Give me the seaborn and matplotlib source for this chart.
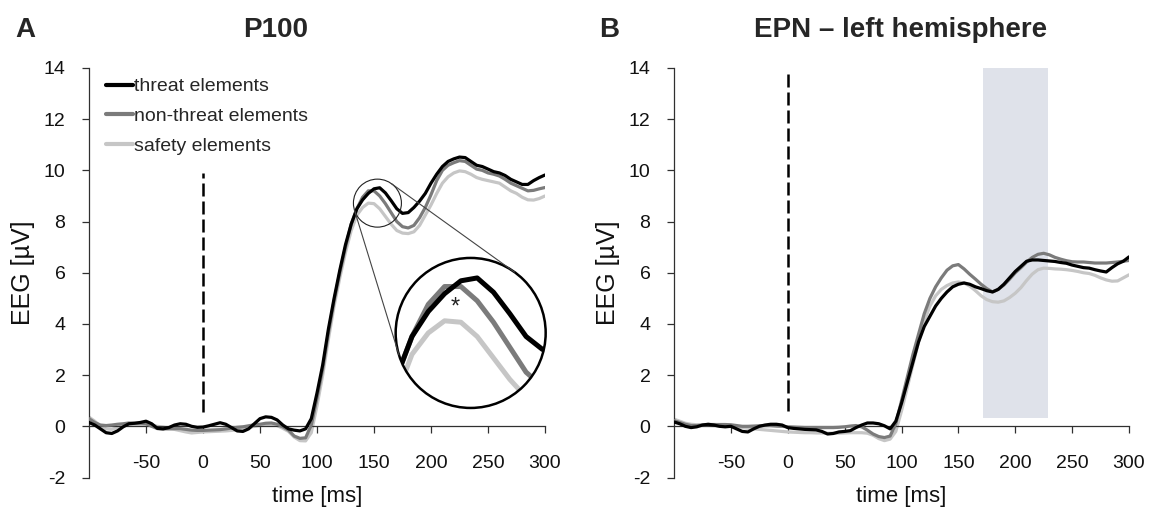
import numpy as np
import pandas as pd
import matplotlib
matplotlib.use("Agg")
import matplotlib.pyplot as plt
import seaborn as sns
from matplotlib.patches import Circle
from matplotlib.transforms import IdentityTransform
from matplotlib.lines import Line2D

# ---------------- data ----------------
time_ms = np.arange(-100, 305, 5)
conditions = ["threat elements", "non-threat elements", "safety elements"]

p100_threat = [0.15, 0.05, -0.10, -0.25, -0.28, -0.18, -0.02, 0.10, 0.12, 0.15,
               0.20, 0.10, -0.08, -0.10, -0.05, 0.05, 0.10, 0.08, 0.00, -0.04,
               -0.03, 0.02, 0.08, 0.14, 0.08, -0.05, -0.18, -0.20, -0.10, 0.10,
               0.30, 0.37, 0.35, 0.25, 0.05, -0.10, -0.15, -0.18, -0.10,
               0.30, 1.30, 2.40, 3.80, 5.00, 6.10, 7.10, 7.90, 8.50, 8.85,
               9.10, 9.28, 9.32, 9.12, 8.82, 8.50, 8.32, 8.35, 8.55, 8.80,
               9.10, 9.50, 9.85, 10.15, 10.35, 10.45, 10.52, 10.50, 10.35, 10.20,
               10.15, 10.05, 9.95, 9.90, 9.80, 9.65, 9.55, 9.45, 9.45, 9.60,
               9.72, 9.82]
p100_nonthreat = [0.30, 0.15, 0.05, 0.03, 0.05, 0.08, 0.10, 0.13, 0.12, 0.12,
                  0.10, 0.00, -0.09, -0.10, -0.10, -0.09, -0.09, -0.12, -0.15, -0.16,
                  -0.16, -0.15, -0.14, -0.13, -0.10, -0.07, -0.04, -0.02, 0.02, 0.06,
                  0.08, 0.12, 0.13, 0.08, -0.02, -0.15, -0.38, -0.47, -0.45,
                  0.05, 1.10, 2.25, 3.65, 4.90, 6.00, 7.00, 7.90, 8.50, 8.95,
                  9.20, 9.20, 9.00, 8.70, 8.35, 8.00, 7.80, 7.75, 7.85, 8.15,
                  8.55, 9.05, 9.60, 10.00, 10.20, 10.30, 10.38, 10.35, 10.20, 10.05,
                  10.00, 9.90, 9.85, 9.78, 9.65, 9.50, 9.40, 9.30, 9.20, 9.22,
                  9.28, 9.33]
p100_safety = [0.36, 0.20, 0.00, -0.10, -0.12, -0.05, 0.03, 0.07, 0.08, 0.08,
               0.08, 0.05, 0.00, -0.03, -0.08, -0.12, -0.17, -0.22, -0.26, -0.24,
               -0.22, -0.21, -0.20, -0.19, -0.18, -0.16, -0.14, -0.10, -0.05, 0.00,
               0.04, 0.07, 0.08, 0.03, -0.08, -0.20, -0.42, -0.56, -0.57,
               -0.25, 0.80, 2.00, 3.40, 4.70, 5.80, 6.80, 7.65, 8.25, 8.55,
               8.72, 8.70, 8.50, 8.20, 7.90, 7.65, 7.55, 7.53, 7.60, 7.85,
               8.25, 8.65, 9.10, 9.50, 9.75, 9.90, 9.98, 9.95, 9.85, 9.72,
               9.65, 9.60, 9.55, 9.50, 9.35, 9.20, 9.10, 8.95, 8.85, 8.84,
               8.90, 9.00]

epn_threat = [0.17, 0.10, 0.00, -0.05, -0.02, 0.05, 0.08, 0.05, 0.00, -0.02,
              0.00, -0.10, -0.20, -0.22, -0.10, 0.00, 0.05, 0.08, 0.08, 0.05,
              -0.05, -0.08, -0.10, -0.12, -0.13, -0.14, -0.20, -0.30, -0.28, -0.22,
              -0.20, -0.17, -0.05, 0.05, 0.13, 0.13, 0.10, 0.02, -0.10,
              0.20, 0.90, 1.70, 2.50, 3.30, 3.90, 4.30, 4.70, 5.00, 5.25,
              5.45, 5.55, 5.60, 5.55, 5.45, 5.38, 5.30, 5.25, 5.35, 5.55,
              5.80, 6.05, 6.25, 6.45, 6.50, 6.50, 6.48, 6.46, 6.44, 6.40,
              6.37, 6.30, 6.25, 6.20, 6.18, 6.12, 6.07, 6.03, 6.20, 6.35,
              6.45, 6.62]
epn_nonthreat = [0.22, 0.15, 0.08, 0.03, 0.03, 0.05, 0.07, 0.07, 0.07, 0.07,
                 0.06, 0.03, 0.00, 0.00, 0.01, 0.02, 0.03, 0.03, 0.01, 0.00,
                 -0.02, -0.03, -0.04, -0.05, -0.05, -0.05, -0.05, -0.05, -0.05, -0.04,
                 -0.02, 0.01, 0.03, -0.02, -0.15, -0.30, -0.40, -0.44, -0.38,
                 0.10, 1.00, 1.90, 2.80, 3.60, 4.40, 5.00, 5.45, 5.80, 6.10,
                 6.27, 6.32, 6.15, 5.94, 5.75, 5.55, 5.38, 5.25, 5.35, 5.52,
                 5.75, 6.00, 6.20, 6.42, 6.60, 6.72, 6.76, 6.70, 6.60, 6.53,
                 6.47, 6.43, 6.42, 6.42, 6.40, 6.38, 6.38, 6.38, 6.40, 6.42,
                 6.45, 6.48]
epn_safety = [0.28, 0.20, 0.12, 0.08, 0.06, 0.05, 0.04, 0.03, 0.02, 0.01,
              0.00, -0.02, -0.05, -0.08, -0.10, -0.12, -0.14, -0.16, -0.18, -0.20,
              -0.22, -0.23, -0.24, -0.25, -0.25, -0.26, -0.26, -0.27, -0.27, -0.27,
              -0.26, -0.25, -0.25, -0.25, -0.27, -0.35, -0.48, -0.56, -0.50,
              -0.20, 0.60, 1.50, 2.40, 3.30, 4.10, 4.70, 5.10, 5.35, 5.50,
              5.60, 5.64, 5.60, 5.48, 5.30, 5.10, 4.95, 4.87, 4.85, 4.90,
              5.03, 5.20, 5.42, 5.70, 5.95, 6.12, 6.18, 6.17, 6.15, 6.14,
              6.12, 6.09, 6.05, 6.00, 5.97, 5.90, 5.80, 5.72, 5.67, 5.68,
              5.80, 5.92]

x_ticks = [-50, 0, 50, 100, 150, 200, 250, 300]
y_ticks = [-2, 0, 2, 4, 6, 8, 10, 12, 14]
epn_window = (172, 229)           # shaded analysis window (ms)
onset_line_A = (0.55, 9.9)         # extent of dashed onset line (µV)
onset_line_B = (0.6, 13.8)
epn_window_bottom = 0.33
zoom_center = (153, 8.55)          # centre of the magnified region (ms, µV)
zoom_half = (23, 1.05)

# ---------------- style ----------------
sns.set_theme(style="white")
plt.rcParams["font.family"] = ["Liberation Sans", "DejaVu Sans"]
plt.rcParams["axes.unicode_minus"] = False
palette = {"threat elements": "#000000",
           "non-threat elements": "#7b7b7b",
           "safety elements": "#c6c6c6"}
LW = 2.3


def long_df(series):
    frames = []
    for cond, vals in zip(conditions, series):
        frames.append(pd.DataFrame({"time": time_ms, "EEG": vals, "condition": cond}))
    return pd.concat(frames, ignore_index=True)


df_A = long_df([p100_threat, p100_nonthreat, p100_safety])
df_B = long_df([epn_threat, epn_nonthreat, epn_safety])

W, H = 1149, 508
fig = plt.figure(figsize=(W / 100, H / 100), dpi=100)
axA = fig.add_axes([89 / W, 1 - 477.5 / H, 456 / W, 409.5 / H])
axB = fig.add_axes([674 / W, 1 - 477.5 / H, 455 / W, 409.5 / H])


def draw_lines(ax, df, lw):
    sns.lineplot(data=df, x="time", y="EEG", hue="condition", hue_order=conditions,
                 palette=palette, linewidth=lw, estimator=None, sort=True,
                 legend=False, ax=ax)
    for z, line in zip([4, 3, 2], ax.lines[:3]):
        line.set_zorder(z)
        line.set_solid_joinstyle("round")
        line.set_solid_capstyle("round")


def style_axes(ax):
    ax.set_xlim(-100, 300)
    ax.set_ylim(-2, 14)
    for s in ["top", "right"]:
        ax.spines[s].set_visible(False)
    ax.spines["bottom"].set_position(("data", 0))
    for s in ["bottom", "left"]:
        ax.spines[s].set_color("#303030")
        ax.spines[s].set_linewidth(0.9)
    ax.set_xticks(x_ticks)
    ax.set_yticks(y_ticks)
    ax.tick_params(axis="x", bottom=True, direction="out", length=5, width=0.9,
                   color="#303030", pad=16, labelsize=14, labelcolor="#111111")
    ax.tick_params(axis="y", left=True, direction="out", length=5, width=0.9,
                   color="#303030", pad=12, labelsize=14, labelcolor="#111111")
    ax.set_xlabel("time [ms]", fontsize=16, color="#111111")
    ax.xaxis.set_label_coords(0.5, -0.02)
    ax.set_ylabel("EEG [µV]", fontsize=18, color="#111111")
    ax.yaxis.set_label_coords(-0.118, 0.5)
    ax.grid(False)


# ---------------- panel A ----------------
draw_lines(axA, df_A, LW)
style_axes(axA)
axA.axvline(0, ymin=(onset_line_A[0] + 2) / 16, ymax=(onset_line_A[1] + 2) / 16,
            color="black", lw=1.8, dashes=(5.2, 2.0), zorder=1)
handles = [Line2D([], [], color=palette[c], lw=3) for c in conditions]
axA.legend(handles, conditions, loc="upper left", bbox_to_anchor=(0.02, 0.995),
           frameon=False, fontsize=14, handlelength=1.4, handletextpad=0.05,
           labelspacing=0.62, borderaxespad=0)

# magnifier inset
R_big = 75
cx_f, cy_f = 0.837, 0.353
axin = axA.inset_axes([cx_f - R_big / 456, cy_f - R_big / 409.5,
                       2 * R_big / 456, 2 * R_big / 409.5])
draw_lines(axin, df_A, 3.6)
axin.set_xlim(zoom_center[0] - zoom_half[0], zoom_center[0] + zoom_half[0])
axin.set_ylim(zoom_center[1] - zoom_half[1], zoom_center[1] + zoom_half[1])
axin.set_xticks([])
axin.set_yticks([])
axin.set_xlabel("")
axin.set_ylabel("")
axin.axis("off")
clip = Circle((0.5, 0.5), 0.5, transform=axin.transAxes)
for line in axin.lines:
    line.set_clip_path(clip)
axin.add_patch(Circle((0.5, 0.5), 0.5, transform=axin.transAxes, fill=False,
                      ec="black", lw=1.8, clip_on=False, zorder=6))
axin.text(0.396, 0.667, "*", transform=axin.transAxes, fontsize=17,
          ha="center", va="center", color="#222222", zorder=7)

# small circle + tangent connectors (display coordinates)
c1 = np.array(axA.transData.transform((zoom_center[0], 8.72)))
r1 = 24.0
c2 = np.array(axin.transAxes.transform((0.5, 0.5)))
r2 = axin.transAxes.transform((1.0, 0.5))[0] - c2[0]
fig.add_artist(Circle(c1, r1, transform=IdentityTransform(), fill=False,
                      ec="#222222", lw=0.8, zorder=6))
d = c2 - c1
L = np.hypot(*d)
u = d / L
w = np.array([-u[1], u[0]])
cos_t = (r2 - r1) / L
sin_t = np.sqrt(1 - cos_t ** 2)
for sgn in (1, -1):
    n = cos_t * u + sgn * sin_t * w
    p1 = c1 - r1 * n
    p2 = c2 - r2 * n
    fig.add_artist(Line2D([p1[0], p2[0]], [p1[1], p2[1]], transform=IdentityTransform(),
                          color="#444444", lw=0.8, zorder=6))

# ---------------- panel B ----------------
draw_lines(axB, df_B, LW)
style_axes(axB)
axB.axvspan(epn_window[0], epn_window[1], ymin=(epn_window_bottom + 2) / 16, ymax=1,
            color="#dfe2ea", lw=0, zorder=0)
axB.axvline(0, ymin=(onset_line_B[0] + 2) / 16, ymax=(onset_line_B[1] + 2) / 16,
            color="black", lw=1.8, dashes=(5.2, 2.0), zorder=1)

# ---------------- titles ----------------
fig.text(25 / W, 1 - 30 / H, "A", fontsize=20, fontweight="bold", ha="center", va="center")
fig.text(276 / W, 1 - 30 / H, "P100", fontsize=20, fontweight="bold", ha="center", va="center")
fig.text(609 / W, 1 - 30 / H, "B", fontsize=20, fontweight="bold", ha="center", va="center")
fig.text(901 / W, 1 - 30 / H, "EPN – left hemisphere", fontsize=20, fontweight="bold",
         ha="center", va="center")

fig.savefig("out.png", dpi=100)
